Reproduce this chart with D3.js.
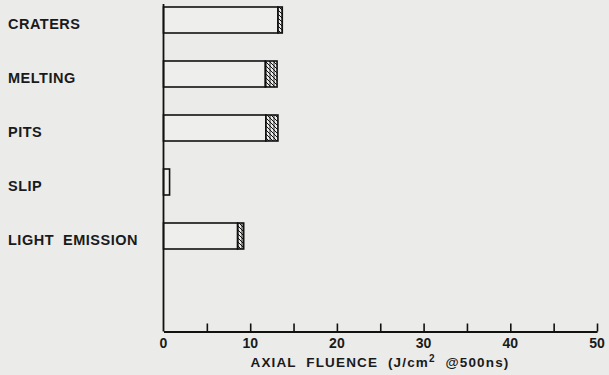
<!DOCTYPE html>
<html>
<head>
<meta charset="utf-8">
<script src="https://cdn.jsdelivr.net/npm/d3@7/dist/d3.min.js"></script>
<style>
  html, body { margin: 0; padding: 0; background: #ebebe9; }
  svg { display: block; }
  text { font-family: "Liberation Sans", Arial, sans-serif; font-weight: bold; fill: #1a1a1a; }
</style>
</head>
<body>
<svg id="chart" width="609" height="375"></svg>
<script>
// data
const categories = ["CRATERS", "MELTING", "PITS", "SLIP", "LIGHT  EMISSION"];
const plainEnd = [13.2, 11.75, 11.8, 0.7, 8.55];   // open part of the bar
const hatchEnd = [13.7, 13.1, 13.2, 0.7, 9.25];    // end of hatched part
const xTicks = [0, 5, 10, 15, 20, 25, 30, 35, 40, 45, 50];
const xLabels = [0, 10, 20, 30, 40, 50];

const AXIS_LEFT = 163.5;
const AXIS_RIGHT = 597;
const BASELINE = 331.5;
const AXIS_TOP = 4;

const svg = d3.select("#chart");

// hatch pattern for the end part of the bars
const defs = svg.append("defs");
const pat = defs.append("pattern")
  .attr("id", "hatch")
  .attr("patternUnits", "userSpaceOnUse")
  .attr("width", 4).attr("height", 4);
pat.append("rect").attr("width", 4).attr("height", 4).attr("fill", "#ebebe9");
pat.append("path")
  .attr("d", "M0,0 L4,4 M-1,3 L1,5 M3,-1 L5,1")
  .attr("stroke", "#111").attr("stroke-width", 1);
pat.append("path")
  .attr("d", "M2,0 L2,4")
  .attr("stroke", "#111").attr("stroke-width", 0.9);

const x = d3.scaleLinear()
  .domain([0, 50])
  .range([AXIS_LEFT, AXIS_RIGHT]);

const y = d3.scaleBand()
  .domain(categories)
  .range([-6.5, 263.5])
  .paddingInner(0.5)
  .paddingOuter(0.25);

const rows = categories.map((c, i) => ({ cat: c, plain: plainEnd[i], hatch: hatchEnd[i] }));

// bars: open part
svg.append("g").selectAll("rect.plain")
  .data(rows)
  .join("rect")
    .attr("class", "plain")
    .attr("x", x(0))
    .attr("y", d => y(d.cat))
    .attr("width", d => x(d.plain) - x(0))
    .attr("height", y.bandwidth() - 1)
    .attr("fill", "#eeeeec")
    .attr("stroke", "#111")
    .attr("stroke-width", 1.6);

// bars: hatched part
svg.append("g").selectAll("rect.hatch")
  .data(rows.filter(d => d.hatch > d.plain))
  .join("rect")
    .attr("class", "hatch")
    .attr("x", d => x(d.plain))
    .attr("y", d => y(d.cat))
    .attr("width", d => x(d.hatch) - x(d.plain))
    .attr("height", y.bandwidth() - 1)
    .attr("fill", "url(#hatch)")
    .attr("stroke", "#111")
    .attr("stroke-width", 1.6);

// category labels (sit a little below the bar centre in the original)
svg.append("g").selectAll("text")
  .data(categories)
  .join("text")
    .attr("x", 8)
    .attr("y", d => y(d) + y.bandwidth() / 2 + 3.5)
    .attr("dy", "0.36em")
    .attr("font-size", 14.5)
    .attr("letter-spacing", 0.5)
    .attr("xml:space", "preserve")
    .text(d => d);

// y axis line
svg.append("line")
  .attr("x1", AXIS_LEFT).attr("x2", AXIS_LEFT)
  .attr("y1", AXIS_TOP).attr("y2", BASELINE)
  .attr("stroke", "#111").attr("stroke-width", 1.8);

// x axis with inward ticks
const xAxis = svg.append("g")
  .attr("transform", `translate(0,${BASELINE})`)
  .call(d3.axisTop(x).tickValues(xTicks.filter(t => t > 0)).tickSize(8).tickSizeOuter(0).tickFormat(""));
xAxis.select(".domain").attr("stroke", "#111").attr("stroke-width", 1.8);
xAxis.selectAll(".tick line").attr("stroke", "#111").attr("stroke-width", 1.6);

svg.append("g").selectAll("text")
  .data(xLabels)
  .join("text")
    .attr("x", d => x(d))
    .attr("y", 347.5)
    .attr("text-anchor", "middle")
    .attr("font-size", 14)
    .text(d => d);

// axis title
const title = svg.append("text")
  .attr("x", 380)
  .attr("y", 367)
  .attr("text-anchor", "middle")
  .attr("font-size", 13.5)
  .attr("letter-spacing", 1.15)
  .attr("xml:space", "preserve");
title.append("tspan").text("AXIAL  FLUENCE  (J/cm");
title.append("tspan").attr("dy", -5).attr("font-size", 10).text("2");
title.append("tspan").attr("dy", 5).text("  @500ns)");
</script>
</body>
</html>
